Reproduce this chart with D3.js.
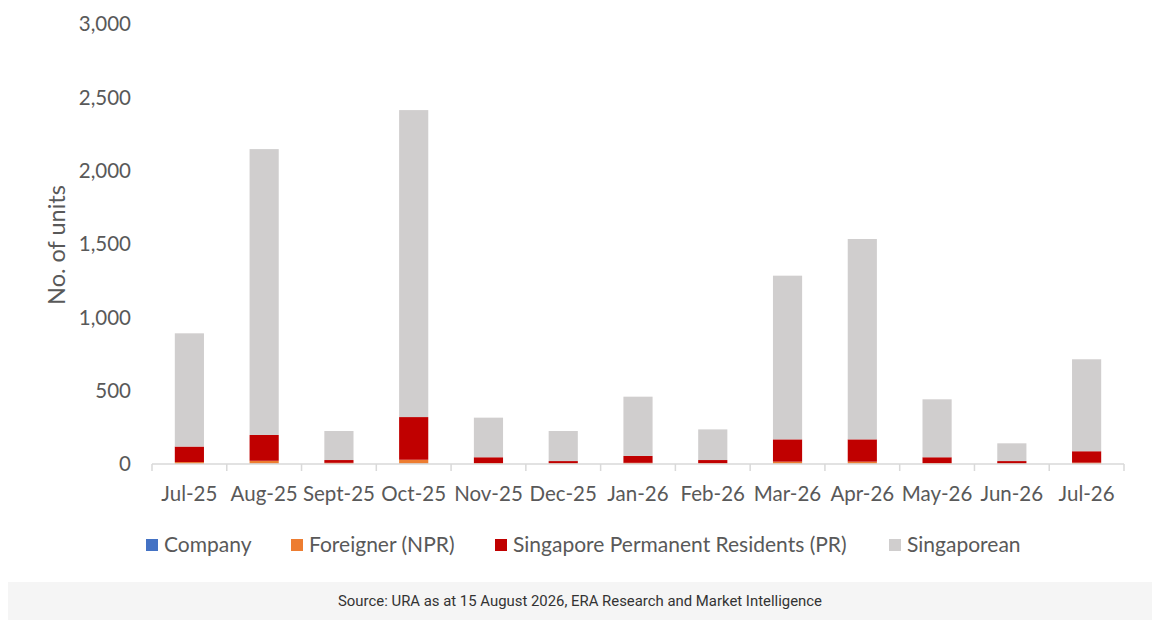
<!DOCTYPE html>
<html><head><meta charset="utf-8">
<script src="https://cdn.jsdelivr.net/npm/d3@7"></script>
<style>
body{margin:0;background:#fff;}
svg{display:block;}
</style></head>
<body>
<svg id="chart" width="1160" height="626"></svg>
<script>
const categories = ["Jul-25","Aug-25","Sept-25","Oct-25","Nov-25","Dec-25","Jan-26","Feb-26","Mar-26","Apr-26","May-26","Jun-26","Jul-26"];
const company     = [1, 2, 0, 2, 0, 0, 1, 0, 2, 2, 0, 0, 1];
const foreigner   = [12, 20, 8, 27, 6, 4, 7, 5, 14, 14, 6, 3, 8];
const pr          = [106, 176, 19, 291, 40, 16, 47, 22, 152, 152, 40, 17, 78];
const singaporean = [772, 1949, 198, 2093, 270, 205, 404, 209, 1116, 1366, 395, 121, 627];
const seriesNames = ["Company","Foreigner (NPR)","Singapore Permanent Residents (PR)","Singaporean"];
const seriesColors = ["#4472c4","#ed7d31","#c00000","#d0cece"];
const yTicks = [0,500,1000,1500,2000,2500,3000];

const rows = categories.map((c,i)=>({cat:c, s0:company[i], s1:foreigner[i], s2:pr[i], s3:singaporean[i]}));
const keys = ["s0","s1","s2","s3"];
const stack = d3.stack().keys(keys)(rows);

const svg = d3.select("#chart");
const font = "Lato, 'Open Sans', sans-serif";
const x = d3.scaleBand().domain(categories).range([152,1124]).paddingInner(0.61).paddingOuter(0.305);
const y = d3.scaleLinear().domain([0,3000]).range([464,24]);

// bars
svg.append("g").selectAll("g").data(stack).join("g")
  .attr("fill",(d,i)=>seriesColors[i])
  .selectAll("rect").data(d=>d).join("rect")
  .attr("x",d=>x(d.data.cat))
  .attr("width",x.bandwidth())
  .attr("y",d=>y(d[1]))
  .attr("height",d=>Math.max(0,y(d[0])-y(d[1])));

// x axis
const xAxis = svg.append("g").attr("transform","translate(0,464)");
xAxis.append("line").attr("x1",152).attr("x2",1124).attr("y1",0).attr("y2",0).attr("stroke","#d9d9d9").attr("stroke-width",1.5);
const step = x.step();
const bounds = d3.range(categories.length+1).map(i=>152+i*step);
xAxis.selectAll("line.tk").data(bounds).join("line").attr("class","tk")
  .attr("x1",d=>d).attr("x2",d=>d).attr("y1",0).attr("y2",7).attr("stroke","#d9d9d9").attr("stroke-width",1.5);
xAxis.selectAll("text").data(categories).join("text")
  .attr("x",d=>x(d)+x.bandwidth()/2).attr("y",37)
  .attr("text-anchor","middle").attr("fill","#595959")
  .style("font-family",font).style("font-size","20.5px").text(d=>d);

// y axis labels
svg.append("g").selectAll("text").data(yTicks).join("text")
  .attr("x",131).attr("y",d=>y(d)).attr("dy","0.35em")
  .attr("text-anchor","end").attr("fill","#595959")
  .style("font-family",font).style("font-size","20.5px")
  .text(d=>d3.format(",")(d));

// y title
svg.append("text").attr("transform","translate(65,245) rotate(-90)")
  .attr("text-anchor","middle").attr("fill","#595959")
  .style("font-family",font).style("font-size","23.5px").text("No. of units");

// legend
const legX = [146,291,495,889];
const leg = svg.append("g").selectAll("g").data(seriesNames).join("g")
  .attr("transform",(d,i)=>`translate(${legX[i]},545)`);
leg.append("rect").attr("x",0).attr("y",-6).attr("width",12).attr("height",12).attr("fill",(d,i)=>seriesColors[i]);
leg.append("text").attr("x",18).attr("y",0).attr("dy","0.35em").attr("fill","#595959")
  .style("font-family",font).style("font-size","21px").text(d=>d);

// source box
svg.append("rect").attr("x",8).attr("y",582).attr("width",1144).attr("height",38).attr("fill","#f5f5f5");
svg.append("text").attr("x",580).attr("y",601).attr("dy","0.35em").attr("text-anchor","middle")
  .attr("fill","#333").style("font-family","Roboto, sans-serif").style("font-size","14.9px")
  .text("Source: URA as at 15 August 2026, ERA Research and Market Intelligence");
</script>
</body></html>
